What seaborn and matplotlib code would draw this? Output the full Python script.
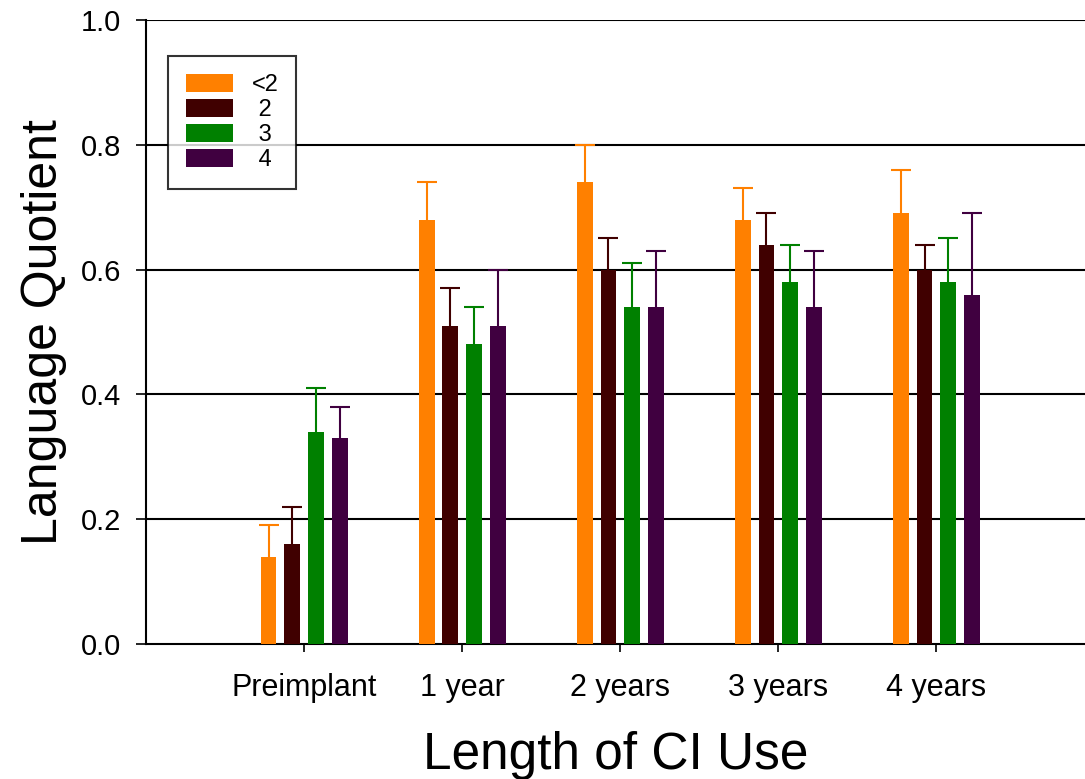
import matplotlib
matplotlib.use("Agg")
import matplotlib.pyplot as plt
import pandas as pd
import seaborn as sns

# values
groups = ["Preimplant", "1 year", "2 years", "3 years", "4 years"]
levels = ["<2", "2", "3", "4"]
means = {
    "<2": [0.14, 0.68, 0.74, 0.68, 0.69],
    "2": [0.16, 0.51, 0.60, 0.64, 0.60],
    "3": [0.34, 0.48, 0.54, 0.58, 0.58],
    "4": [0.33, 0.51, 0.54, 0.54, 0.56],
}
upper = {
    "<2": [0.19, 0.74, 0.80, 0.73, 0.76],
    "2": [0.22, 0.57, 0.65, 0.69, 0.64],
    "3": [0.41, 0.54, 0.61, 0.64, 0.65],
    "4": [0.38, 0.60, 0.63, 0.63, 0.69],
}
colors = ["#FF8000", "#400000", "#008000", "#400040"]


def main():
    rows = []
    for lv in levels:
        for g, m in zip(groups, means[lv]):
            rows.append({"group": g, "level": lv, "lq": m})
    df = pd.DataFrame(rows)

    sns.set_theme(style="white")
    plt.rcParams["font.family"] = ["Liberation Sans", "DejaVu Sans"]
    plt.rcParams["text.color"] = "black"
    plt.rcParams["axes.labelcolor"] = "black"

    fig = plt.figure(figsize=(10.85, 7.79), dpi=100)
    ax = fig.add_axes([0.1346, 0.1733, 0.8654, 0.8010])

    sns.barplot(
        data=df, x="group", y="lq", hue="level",
        order=groups, hue_order=levels, palette=colors,
        width=0.6, gap=1 / 3, errorbar=None, saturation=1,
        linewidth=0, ax=ax, zorder=3,
    )

    # one-sided error bars, same colour as the bar
    for cont, lv, col in zip(ax.containers, levels, colors):
        xs = [p.get_x() + p.get_width() / 2 for p in cont.patches]
        hs = [p.get_height() for p in cont.patches]
        err = [u - h for u, h in zip(upper[lv], hs)]
        eb = ax.errorbar(
            xs, hs, yerr=[[0] * len(err), err], fmt="none",
            ecolor=col, elinewidth=1.5, capsize=7, capthick=1.5, zorder=2,
        )
        # drop the lower cap (sits on the bar top)
        eb[1][0].set_visible(False)

    ax.set_ylim(0, 1.0)
    ax.set_xlim(-1.0, 4.94)
    ax.set_yticks([0.0, 0.2, 0.4, 0.6, 0.8, 1.0])
    ax.set_yticklabels(["0.0", "0.2", "0.4", "0.6", "0.8", "1.0"])
    for y in [0.2, 0.4, 0.6, 0.8, 1.0]:
        ax.axhline(y, color="black", lw=1.5, zorder=1)

    for s in ["top", "right"]:
        ax.spines[s].set_visible(False)
    for s in ["left", "bottom"]:
        ax.spines[s].set_color("black")
        ax.spines[s].set_linewidth(1.5)

    ax.tick_params(axis="y", direction="out", length=7, width=1.2,
                   labelsize=21, pad=11, colors="black", left=True)
    ax.tick_params(axis="x", direction="out", length=6, width=1.2,
                   labelsize=22, pad=15, colors="black", bottom=True)

    ax.set_xlabel("Length of CI Use", fontsize=37, labelpad=20)
    ax.set_ylabel("Language Quotient", fontsize=36, labelpad=10)

    handles, _ = ax.get_legend_handles_labels()
    leg = ax.legend(
        handles, ["<2", " 2", " 3", " 4"],
        loc="upper left", bbox_to_anchor=(0.0234, 0.942), borderaxespad=0,
        fontsize=17, frameon=True, fancybox=False, edgecolor="black",
        handlelength=2.0, handleheight=0.8, handletextpad=0.8,
        labelspacing=0.12, borderpad=0.75,
    )
    leg.get_frame().set_linewidth(1.5)
    leg.set_zorder(5)

    fig.savefig("out.png", dpi=100)


if __name__ == "__main__":
    main()
